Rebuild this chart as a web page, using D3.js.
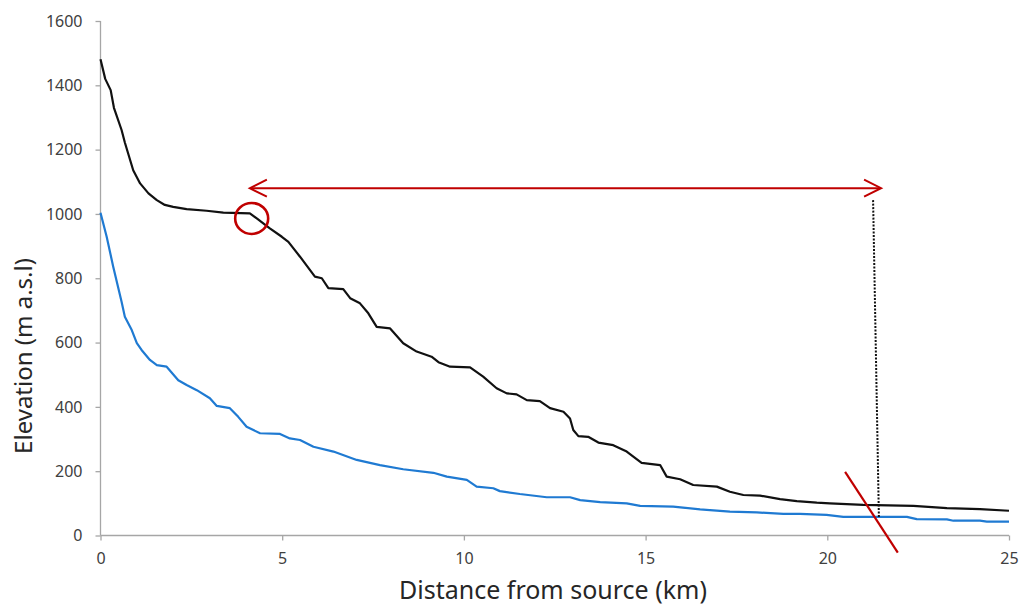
<!DOCTYPE html>
<html>
<head>
<meta charset="utf-8">
<script src="https://cdn.jsdelivr.net/npm/d3@7"></script>
<style>
  html, body { margin: 0; padding: 0; background: #fff; }
  svg { display: block; }
</style>
</head>
<body>
<svg id="chart" width="1019" height="607"></svg>
<script>
// ---- Data (distance km, elevation m a.s.l.) ----
const blackDist = [0, 0.13, 0.28, 0.37, 0.58, 0.67, 0.9, 1.09, 1.32, 1.55, 1.77, 2.0, 2.37, 2.92, 3.38, 4.11, 4.3, 4.66, 4.99, 5.17, 5.49, 5.9, 6.09, 6.27, 6.68, 6.87, 7.14, 7.37, 7.6, 7.97, 8.33, 8.7, 9.11, 9.3, 9.62, 10.17, 10.53, 10.9, 11.18, 11.45, 11.73, 12.09, 12.37, 12.74, 12.92, 13.01, 13.15, 13.42, 13.7, 14.11, 14.48, 14.89, 15.4, 15.58, 15.95, 16.31, 16.96, 17.32, 17.69, 18.15, 18.7, 19.16, 19.71, 20.07, 20.99, 22.37, 23.29, 24.2, 25.0];
const blackElev = [1481, 1420, 1385, 1330, 1261, 1222, 1136, 1095, 1064, 1043, 1028, 1022, 1015, 1010, 1004, 1002, 986, 955, 929, 913, 867, 805, 800, 769, 766, 738, 722, 691, 649, 644, 598, 572, 556, 539, 525, 523, 494, 458, 442, 439, 421, 418, 396, 385, 364, 328, 309, 307, 289, 281, 261, 226, 219, 183, 175, 157, 152, 136, 126, 124, 113, 107, 102, 100, 95, 92, 85, 82, 77];

const blueDist = [0, 0.17, 0.35, 0.58, 0.67, 0.86, 1.0, 1.13, 1.36, 1.55, 1.82, 2.14, 2.37, 2.65, 3.01, 3.2, 3.56, 3.79, 4.02, 4.39, 4.94, 5.21, 5.49, 5.86, 6.41, 7.05, 7.69, 8.33, 9.16, 9.53, 10.08, 10.35, 10.81, 10.99, 11.54, 12.28, 12.92, 13.2, 13.75, 14.48, 14.85, 15.76, 16.5, 17.32, 18.06, 18.79, 19.25, 19.98, 20.44, 22.19, 22.46, 23.29, 23.47, 24.2, 24.39, 25.0];
const blueElev = [1004, 929, 836, 727, 680, 639, 598, 577, 546, 530, 525, 483, 468, 452, 427, 403, 396, 369, 338, 318, 316, 302, 297, 276, 261, 235, 219, 206, 195, 183, 173, 152, 147, 138, 129, 119, 119, 110, 104, 100, 92, 90, 81, 74, 72, 67, 67, 64, 58, 58, 51, 50, 46, 46, 43, 43];

const xTicks = [0, 5, 10, 15, 20, 25];
const yTicks = [0, 200, 400, 600, 800, 1000, 1200, 1400, 1600];

// Annotations (data units)
const arrowDist = [4.11, 21.48];
const arrowElev = [1080];
const circleCentre = [4.16, 986];
const dottedDist = [21.26, 21.42];
const dottedElev = [1043, 54];
const slashDist = [20.49, 21.94];
const slashElev = [198, -53];

// ---- Layout ----
const W = 1019, H = 607;
const margin = { left: 100.5, top: 21, right: 10, bottom: 71.5 };
const svg = d3.select("#chart");

const x = d3.scaleLinear().domain([0, 25]).range([margin.left, W - margin.right]);
const y = d3.scaleLinear().domain([0, 1600]).range([H - margin.bottom, margin.top]);

const axisColor = "#a6a6a6";
const textColor = "#404040";
const font = "'Noto Sans', 'Open Sans', sans-serif";

const yAxis = svg.append("g")
  .attr("transform", `translate(${x(0)},0)`)
  .call(d3.axisLeft(y).tickValues(yTicks).tickSize(5).tickPadding(13).tickFormat(d3.format("d")));
const xAxis = svg.append("g")
  .attr("transform", `translate(0,${y(0)})`)
  .call(d3.axisBottom(x).tickValues(xTicks).tickSize(5).tickPadding(12).tickFormat(d3.format("d")));

[yAxis, xAxis].forEach(g => {
  g.select(".domain").attr("stroke", axisColor).attr("stroke-width", 1.3);
  g.selectAll(".tick line").attr("stroke", axisColor).attr("stroke-width", 1.3);
  g.selectAll(".tick text").attr("fill", textColor).style("font-family", font).style("font-size", "16px");
});
xAxis.select(".domain").attr("d", `M${x(0)},0H${x(25)}`);
yAxis.select(".domain").attr("d", `M0,${y(0)}V${y(1600)}`);

// Axis titles
svg.append("text")
  .attr("x", 553)
  .attr("y", 599)
  .attr("text-anchor", "middle")
  .attr("fill", "#262626")
  .style("font-family", font)
  .style("font-size", "25px")
  .text("Distance from source (km)");

svg.append("text")
  .attr("transform", `translate(32,356) rotate(-90)`)
  .attr("text-anchor", "middle")
  .attr("fill", "#262626")
  .style("font-family", font)
  .style("font-size", "24px")
  .text("Elevation (m a.s.l)");

// Lines
const line = d3.line().x(d => x(d[0])).y(d => y(d[1])).curve(d3.curveLinear);
const blackData = blackDist.map((d, i) => [d, blackElev[i]]);
const blueData = blueDist.map((d, i) => [d, blueElev[i]]);

svg.append("path").datum(blueData)
  .attr("d", line).attr("fill", "none")
  .attr("stroke", "#1f7ad2").attr("stroke-width", 2.2).attr("stroke-linejoin", "round");
svg.append("path").datum(blackData)
  .attr("d", line).attr("fill", "none")
  .attr("stroke", "#111").attr("stroke-width", 2.2).attr("stroke-linejoin", "round");

// Annotations
const red = "#c00000";

svg.append("line")
  .attr("x1", x(dottedDist[0])).attr("y1", y(dottedElev[0]))
  .attr("x2", x(dottedDist[1])).attr("y2", y(dottedElev[1]))
  .attr("stroke", "#111").attr("stroke-width", 2).attr("stroke-dasharray", "2,1.5");

const ay = y(arrowElev[0]);
const ax1 = x(arrowDist[0]), ax2 = x(arrowDist[1]);
svg.append("line")
  .attr("x1", ax1 + 1).attr("y1", ay).attr("x2", ax2 - 1).attr("y2", ay)
  .attr("stroke", red).attr("stroke-width", 2);
svg.append("path")
  .attr("d", `M${ax1 + 17},${ay - 8.5}L${ax1},${ay}L${ax1 + 17},${ay + 8.5}`)
  .attr("fill", "none").attr("stroke", red).attr("stroke-width", 2);
svg.append("path")
  .attr("d", `M${ax2 - 17},${ay - 8.5}L${ax2},${ay}L${ax2 - 17},${ay + 8.5}`)
  .attr("fill", "none").attr("stroke", red).attr("stroke-width", 2);

svg.append("ellipse")
  .attr("cx", x(circleCentre[0])).attr("cy", y(circleCentre[1]))
  .attr("rx", 16.5).attr("ry", 15.5)
  .attr("fill", "none").attr("stroke", red).attr("stroke-width", 2.6);

svg.append("line")
  .attr("x1", x(slashDist[0])).attr("y1", y(slashElev[0]))
  .attr("x2", x(slashDist[1])).attr("y2", y(slashElev[1]))
  .attr("stroke", red).attr("stroke-width", 2.2);
</script>
</body>
</html>
